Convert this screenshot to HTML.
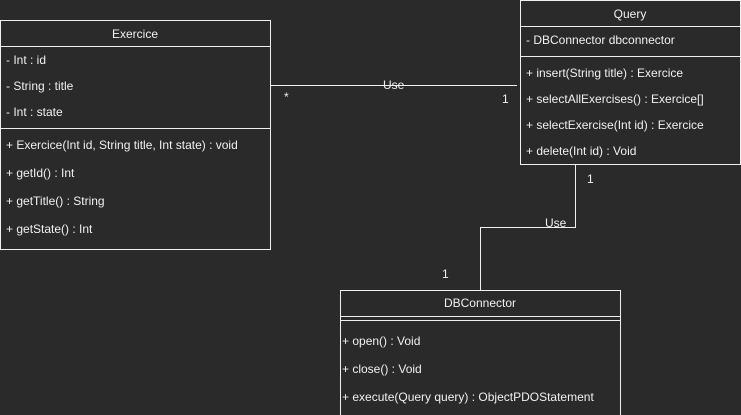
<!DOCTYPE html>
<html><head><style>
html,body{margin:0;padding:0;background:#2a2a2a;}
svg{display:block;font-family:"Liberation Sans",Arial,sans-serif;font-size:12px;}
</style></head><body>
<svg width="741" height="415" viewBox="0 0 741 415">
<rect x="0" y="0" width="741" height="415" fill="#2a2a2a"/>
<g stroke="#f0f0f0" fill="none" stroke-width="1">
<rect x="0.5" y="20.5" width="270" height="229"/>
<line x1="0" y1="46.5" x2="271" y2="46.5"/>
<line x1="0" y1="128.5" x2="271" y2="128.5"/>
<rect x="520.5" y="0.5" width="220" height="164"/>
<line x1="520" y1="26.5" x2="741" y2="26.5"/>
<line x1="520" y1="56.5" x2="741" y2="56.5"/>
<rect x="340.5" y="290.5" width="280" height="130"/>
<line x1="340" y1="316.5" x2="621" y2="316.5"/>
<line x1="340" y1="320.5" x2="621" y2="320.5"/>
<line x1="271" y1="85.5" x2="517" y2="85.5"/>
<polyline points="575.5,165 575.5,227.5 480.5,227.5 480.5,290"/>
</g>
<g fill="#f0f0f0">
<text x="135" y="38" text-anchor="middle">Exercice</text>
<text x="6" y="64">- Int : id</text>
<text x="6" y="90">- String : title</text>
<text x="6" y="116">- Int : state</text>
<text x="6" y="149">+ Exercice(Int id, String title, Int state) : void</text>
<text x="6" y="177">+ getId() : Int</text>
<text x="6" y="205">+ getTitle() : String</text>
<text x="6" y="233">+ getState() : Int</text>
<text x="630" y="18" text-anchor="middle">Query</text>
<text x="526" y="44">- DBConnector dbconnector</text>
<text x="526" y="77">+ insert(String title) : Exercice</text>
<text x="526" y="103">+ selectAllExercises() : Exercice[]</text>
<text x="526" y="129">+ selectExercise(Int id) : Exercice</text>
<text x="526" y="155">+ delete(Int id) : Void</text>
<text x="480" y="307" text-anchor="middle">DBConnector</text>
<text x="342" y="345">+ open() : Void</text>
<text x="342" y="373">+ close() : Void</text>
<text x="342" y="401">+ execute(Query query) : ObjectPDOStatement</text>
<text x="383" y="89">Use</text>
<text x="545" y="227">Use</text>
<text x="284" y="101">*</text>
<text x="502" y="103">1</text>
<text x="587" y="183">1</text>
<text x="442" y="278">1</text>
</g>
</svg>
</body></html>
